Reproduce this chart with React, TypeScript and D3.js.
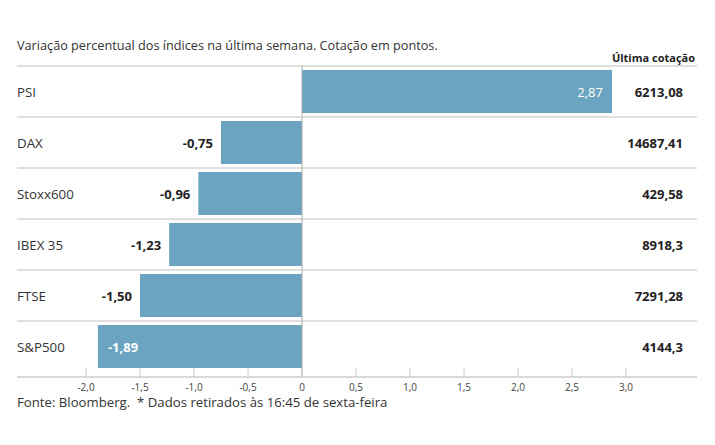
import React from "react";
import * as d3 from "d3";

const categories = ["PSI", "DAX", "Stoxx600", "IBEX 35", "FTSE", "S&P500"];
const changes = [2.87, -0.75, -0.96, -1.23, -1.5, -1.89];
const quotes = ["6213,08", "14687,41", "429,58", "8918,3", "7291,28", "4144,3"];
const insideLabel = [true, false, false, false, false, true];
const ticks = [-2, -1.5, -1, -0.5, 0, 0.5, 1, 1.5, 2, 2.5, 3];

const W = 715;
const H = 445;
const FONT = "'Open Sans', 'Noto Sans', sans-serif";
const BAR = "#6aa4c0";

const fmt = (v: number, d: number) => v.toFixed(d).replace(".", ",");

export default function App() {
  const x = d3.scaleLinear().domain([0, 3]).range([302, 626]);
  const y = d3.scaleBand<string>().domain(categories).range([66, 372]).padding(0);
  const left = 17;
  const right = 697;
  const axisY = 377;

  return (
    <div style={{ position: "absolute", left: 0, top: 0 }}>
      <svg width={W} height={H} style={{ display: "block", fontFamily: FONT }}>
        <rect width={W} height={H} fill="#fff" />
        <text x={left} y={50} fontSize={12.7} fill="#333">
          Variação percentual dos índices na última semana. Cotação em pontos.
        </text>
        <text x={695} y={62} fontSize={11} fontWeight="bold" fill="#222" textAnchor="end">
          Última cotação
        </text>
        {categories.map((c, i) => {
          const top = y(c)!;
          const bw = y.bandwidth();
          const v = changes[i];
          const x0 = x(Math.min(0, v));
          const x1 = x(Math.max(0, v));
          const cy = top + bw / 2;
          let lx: number;
          let anchor: "start" | "end";
          if (insideLabel[i]) {
            if (v >= 0) {
              lx = x(v) - 9;
              anchor = "end";
            } else {
              lx = x(v) + 10;
              anchor = "start";
            }
          } else {
            if (v >= 0) {
              lx = x(v) + 8;
              anchor = "start";
            } else {
              lx = x(v) - 8;
              anchor = "end";
            }
          }
          return (
            <g key={c}>
              <line x1={left} x2={right} y1={top} y2={top} stroke="#d6d6d6" strokeWidth={1.5} />
              <rect x={x0} y={top + 4} width={x1 - x0} height={bw - 8} fill={BAR} />
              <text x={left} y={cy + 5} fontSize={13.3} fill="#333">
                {c}
              </text>
              <text
                x={lx}
                y={cy + 5}
                fontSize={13}
                fontWeight={insideLabel[i] && v >= 0 ? "normal" : "bold"}
                fill={insideLabel[i] ? "#fff" : "#222"}
                textAnchor={anchor}
              >
                {fmt(v, 2)}
              </text>
              <text x={683} y={cy + 5} fontSize={13} fontWeight="bold" fill="#222" textAnchor="end">
                {quotes[i]}
              </text>
            </g>
          );
        })}
        <line x1={x(0)} x2={x(0)} y1={66} y2={axisY} stroke="#aaa" strokeWidth={1} />
        <line x1={left} x2={right} y1={axisY} y2={axisY} stroke="#ccc" strokeWidth={1.5} />
        {ticks.map((t) => (
          <g key={t}>
            <line x1={x(t)} x2={x(t)} y1={axisY - 9} y2={axisY} stroke="#ccc" strokeWidth={1} />
            <text x={x(t)} y={391} fontSize={10} fill="#444" textAnchor="middle">
              {t === 0 ? "0" : fmt(t, 1)}
            </text>
          </g>
        ))}
        <text x={left} y={407} fontSize={13.2} fill="#333">
          Fonte: Bloomberg.{"\u00a0\u00a0"}* Dados retirados às 16:45 de sexta-feira
        </text>
      </svg>
    </div>
  );
}
